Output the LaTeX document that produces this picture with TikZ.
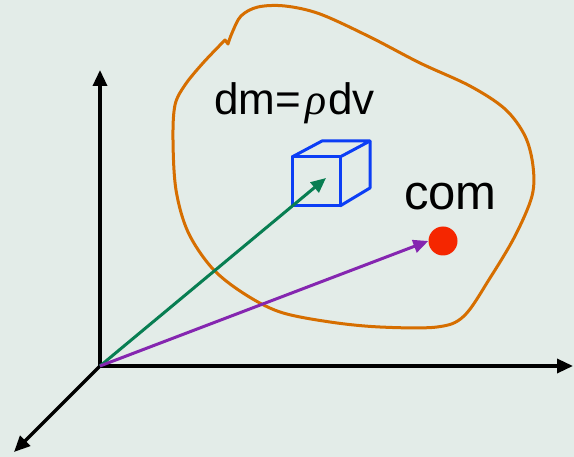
\documentclass[tikz,border=0pt]{standalone}
\usepackage{fontspec}
\setmainfont{Liberation Sans}
\newfontfamily\rhofont{Liberation Serif}
\usetikzlibrary{arrows.meta}
\definecolor{bg}{RGB}{227,236,232}
\definecolor{blobc}{RGB}{214,110,0}
\definecolor{greenv}{RGB}{8,126,82}
\definecolor{purplev}{RGB}{133,38,176}
\definecolor{redc}{RGB}{245,38,0}
\definecolor{cubec}{RGB}{12,62,245}
\begin{document}
\begin{tikzpicture}[x=1pt,y=-1pt,
  axis/.style={line width=3.4pt,-{Triangle[length=16pt,width=14pt]}},
  vec/.style={line width=3pt,-{Triangle[length=15pt,width=13pt]}},
  cubeline/.style={cubec,line width=3pt,line join=round},
  lbl/.style={inner sep=0pt,anchor=base west}]
\fill[bg] (0,0) rectangle (574,457);
\useasboundingbox (0,0) rectangle (574,457);
% blob
\draw[blobc,line width=3pt,line join=round]
  plot[smooth,tension=0.55] coordinates {(228,44) (232,33) (241,16) (258,7) (285,6) (320,14) (370,37) (420,63) (470,86) (505,109) (525,136) (533,166) (532,196) (515,236) (490,278) (464,316) (437,327) (380,327) (330,322) (280,312) (243,293) (212,268) (188,232) (176,190) (173,140) (175,105) (185,85) (203,63) (225,40)} -- cycle;
% axes
\coordinate (O) at (100,366);
\coordinate (ytip) at (100,70);
\coordinate (xtip) at (573,366);
\coordinate (ztip) at (14,452);
\draw[axis] (O) -- (ytip);
\draw[axis] (O) -- (xtip);
\draw[axis] (O) -- (ztip);
% cube
\coordinate (c1) at (292,157);
\coordinate (c2) at (340,157);
\coordinate (c3) at (340,206);
\coordinate (c4) at (292,206);
\coordinate (c5) at (322,141);
\coordinate (c6) at (370,141);
\coordinate (c7) at (370,188);
\draw[cubeline] (c1) -- (c2) -- (c3) -- (c4) -- cycle;
\draw[cubeline] (c1) -- (c5) -- (c6) -- (c2);
\draw[cubeline] (c6) -- (c7) -- (c3);
% com dot
\node[circle,fill=redc,minimum size=29pt,inner sep=0pt] (com) at (443,241) {};
% vectors
\coordinate (dmtip) at (326,178);
\draw[vec,greenv] (O) -- (dmtip);
\draw[vec,purplev] (O) -- (com.west);
% labels
\node[lbl] (dmlabel) at (214,115) {\fontsize{44}{48}\selectfont dm=\hspace{4pt}{\rhofont\itshape ρ}\hspace{2pt}dv};
\node[lbl] (comlabel) at (404,210) {\fontsize{49}{53}\selectfont com};
\end{tikzpicture}
\end{document}
